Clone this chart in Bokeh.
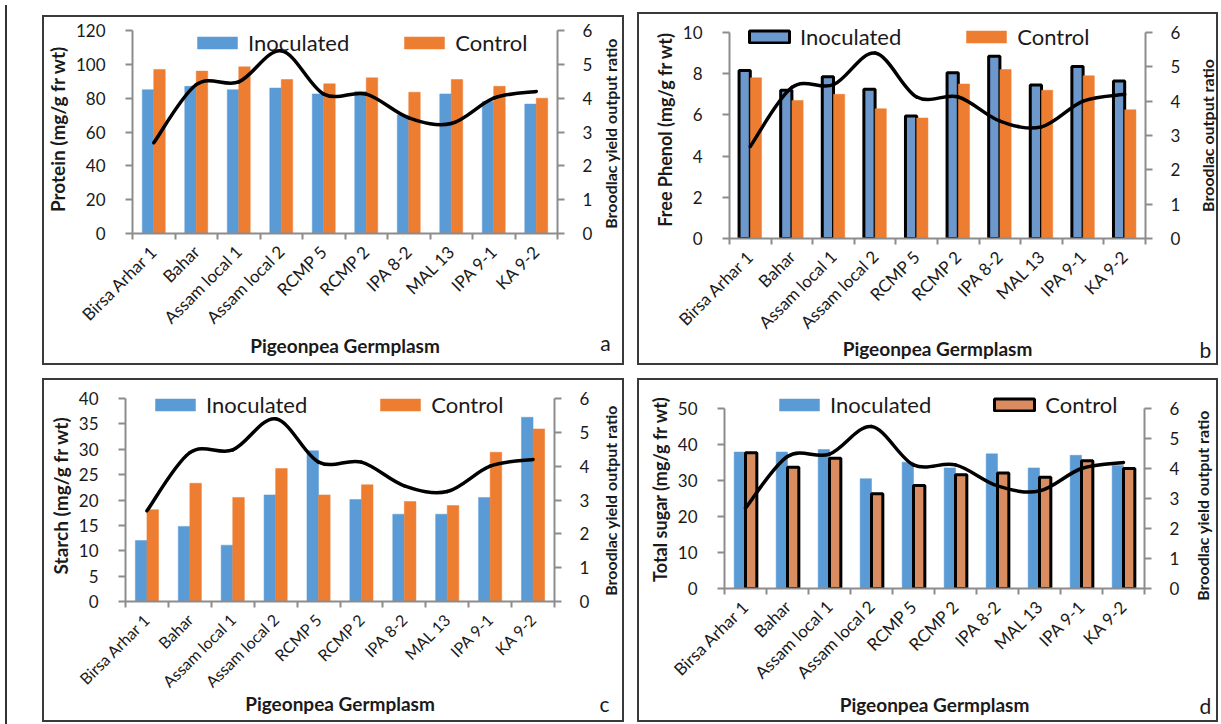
import numpy as np
from bokeh.plotting import figure
from bokeh.models import (Range1d, LinearAxis, FixedTicker, Legend, Label, Div,
                          ColumnDataSource)
from bokeh.layouts import row, column
from bokeh.embed import file_html
from bokeh.resources import INLINE

# ---------------- data ----------------
germplasm = ["Birsa Arhar 1", "Bahar", "Assam local 1", "Assam local 2", "RCMP 5",
             "RCMP 2", "IPA 8-2", "MAL 13", "IPA 9-1", "KA 9-2"]
broodlac_ratio = [2.68, 4.40, 4.48, 5.40, 4.12, 4.12, 3.42, 3.25, 4.00, 4.20]
ratio_ticks = [0, 1, 2, 3, 4, 5, 6]

protein_inoculated = [85.0, 87.0, 85.0, 86.0, 82.5, 84.0, 70.0, 82.5, 78.0, 76.5]
protein_control = [97.0, 96.0, 98.5, 91.0, 88.5, 92.0, 83.5, 91.0, 87.0, 80.0]
protein_ticks = [0, 20, 40, 60, 80, 100, 120]

phenol_inoculated = [8.15, 7.2, 7.85, 7.25, 5.95, 8.05, 8.85, 7.45, 8.35, 7.65]
phenol_control = [7.8, 6.7, 7.0, 6.3, 5.85, 7.5, 8.2, 7.2, 7.9, 6.25]
phenol_ticks = [0, 2, 4, 6, 8, 10]

starch_inoculated = [12.0, 14.8, 11.1, 21.0, 29.7, 20.1, 17.2, 17.2, 20.5, 36.3]
starch_control = [18.1, 23.3, 20.5, 26.2, 21.0, 23.0, 19.7, 18.9, 29.4, 34.0]
starch_ticks = [0, 5, 10, 15, 20, 25, 30, 35, 40]

sugar_inoculated = [37.9, 37.9, 38.6, 30.5, 35.1, 33.5, 37.4, 33.5, 37.0, 34.2]
sugar_control = [37.7, 33.7, 36.2, 26.3, 28.6, 31.6, 32.1, 30.9, 35.5, 33.3]
sugar_ticks = [0, 10, 20, 30, 40, 50]

# ---------------- style ----------------
FONT = "Lato"
BLUE = "#5B9BD5"
ORANGE = "#ED7D31"
AXIS_GRAY = "#8C8C8C"
TEXT = "#1a1a1a"
BOX = "#3a3a3a"
SIDE_W = 26


def style_axis(ax, label_standoff):
    ax.axis_line_color = AXIS_GRAY
    ax.axis_line_width = 2
    ax.major_tick_line_color = AXIS_GRAY
    ax.major_tick_line_width = 2
    ax.major_tick_out = 7
    ax.major_tick_in = 0
    ax.minor_tick_line_color = None
    ax.major_label_text_font = FONT
    ax.major_label_text_font_size = "17px"
    ax.major_label_text_color = TEXT
    ax.major_label_standoff = label_standoff
    ax.axis_label_text_font = FONT
    ax.axis_label_text_font_style = "bold"
    ax.axis_label_text_color = TEXT


def panel(cfg):
    n = len(germplasm)
    centers = np.arange(n) + 0.5
    bw = 0.27
    bl, br, bt, bb = cfg["borders"]
    axis_px = cfg["axis_px"]          # pixel height of the 0..top tick span
    extra = cfg["extra_px"]           # room above the top tick for the legend
    yticks = cfg["yticks"]
    grow = (axis_px + extra) / axis_px
    w_main = cfg["w"] - SIDE_W
    top, left = cfg["offset"]
    p = figure(width=w_main, height=cfg["h"], x_range=Range1d(0, n),
               y_range=Range1d(0, yticks[-1] * grow), output_backend="svg",
               toolbar_location=None, min_border_left=bl, min_border_right=br,
               min_border_top=bt, min_border_bottom=bb, outline_line_color=None,
               border_fill_alpha=0, margin=(top, 0, 0, left), frame_align=False)
    p.styles = {"box-shadow": f"inset 2px 0 0 0 {BOX}, inset 0 2px 0 0 {BOX}, "
                              f"inset 0 -2px 0 0 {BOX}"}
    p.grid.visible = False
    p.extra_y_ranges = {"ratio": Range1d(0, ratio_ticks[-1] * grow)}

    src = ColumnDataSource(dict(xi=centers - bw / 2, xc=centers + bw / 2,
                                inoc=cfg["inoc"], ctrl=cfg["ctrl"]))
    inoc_fill, ctrl_fill = cfg["fills"]
    inoc_line, ctrl_line = cfg["outlined"]
    r1 = p.vbar(x="xi", top="inoc", width=bw, source=src, fill_color=inoc_fill,
                line_color="black" if inoc_line else inoc_fill,
                line_width=3 if inoc_line else 0.5)
    r2 = p.vbar(x="xc", top="ctrl", width=bw, source=src, fill_color=ctrl_fill,
                line_color="black" if ctrl_line else ctrl_fill,
                line_width=3 if ctrl_line else 0.5)

    # smoothed broodlac ratio line (Bezier segments through the data points)
    ys = np.array(broodlac_ratio, dtype=float)
    xs = centers
    x0, y0, x1, y1, cx0, cy0, cx1, cy1 = ([] for _ in range(8))
    for i in range(n - 1):
        pv = max(i - 1, 0)
        nx = min(i + 2, n - 1)
        x0.append(xs[i]); y0.append(ys[i])
        x1.append(xs[i + 1]); y1.append(ys[i + 1])
        cx0.append(xs[i] + (xs[i + 1] - xs[pv]) / 6)
        cy0.append(ys[i] + (ys[i + 1] - ys[pv]) / 6)
        cx1.append(xs[i + 1] - (xs[nx] - xs[i]) / 6)
        cy1.append(ys[i + 1] - (ys[nx] - ys[i]) / 6)
    p.bezier(x0=x0, y0=y0, x1=x1, y1=y1, cx0=cx0, cy0=cy0, cx1=cx1, cy1=cy1,
             y_range_name="ratio", line_color="black", line_width=3.5,
             line_cap="round")

    # x axis
    xa = p.xaxis[0]
    style_axis(xa, 8)
    xa.ticker = FixedTicker(ticks=[float(c) for c in centers],
                            minor_ticks=list(range(n + 1)))
    xa.major_label_overrides = {float(c): g for c, g in zip(centers, germplasm)}
    xa.major_label_text_font_size = cfg["xlabel_size"]
    xa.major_tick_line_color = None
    xa.minor_tick_line_color = AXIS_GRAY
    xa.minor_tick_line_width = 2
    xa.minor_tick_out = 6
    xa.minor_tick_in = 0
    xa.major_label_orientation = np.pi / 4
    xa.axis_label = "Pigeonpea Germplasm"
    xa.axis_label_text_font_size = "19px"
    xa.axis_label_standoff = cfg["xtitle_standoff"]

    # left axis
    ya = p.yaxis[0]
    style_axis(ya, 20)
    ya.ticker = FixedTicker(ticks=yticks)
    ya.bounds = (0, yticks[-1])
    ya.axis_label = cfg["ytitle"]
    ya.axis_label_text_font_size = cfg["ytitle_size"]
    ya.axis_label_standoff = 4

    # right axis (ratio ticks)
    ra = LinearAxis(y_range_name="ratio", ticker=FixedTicker(ticks=ratio_ticks),
                    bounds=(0, ratio_ticks[-1]))
    style_axis(ra, 18)
    p.add_layout(ra, "right")

    legend = Legend(items=[("Inoculated", [r1]), ("Control", [r2])],
                    location=cfg["legend_xy"], orientation="horizontal",
                    background_fill_alpha=0, border_line_color=None,
                    label_text_font=FONT, label_text_font_size="22px",
                    label_text_color=TEXT, glyph_width=50, glyph_height=15,
                    spacing=cfg["spacing"], label_standoff=6, padding=0, margin=0)
    p.add_layout(legend)

    # narrow strip at the right of the box: right-axis title and panel letter
    s = figure(width=SIDE_W, height=cfg["h"], x_range=Range1d(0, SIDE_W),
               y_range=Range1d(0, cfg["h"]), output_backend="svg",
               toolbar_location=None, min_border=0, x_axis_location=None,
               y_axis_location=None, outline_line_color=None,
               background_fill_alpha=0, border_fill_alpha=0,
               margin=(top, 0, 0, 0), frame_align=False)
    s.styles = {"box-shadow": f"inset -2px 0 0 0 {BOX}, inset 0 2px 0 0 {BOX}, "
                              f"inset 0 -2px 0 0 {BOX}"}
    s.grid.visible = False
    tx, ty = cfg["rtitle_xy"]
    s.add_layout(Label(x=tx, y=ty, text=cfg["rtitle"], angle=np.pi / 2,
                       text_font=FONT, text_font_size="16px",
                       text_font_style="bold", text_color=TEXT,
                       text_align="center", text_baseline="middle"))
    lx, ly = cfg["letter_xy"]
    s.add_layout(Label(x=lx, y=ly, text=cfg["letter"], text_font=FONT,
                       text_font_size="21px", text_color=TEXT,
                       text_align="center", text_baseline="middle"))
    return row(p, s)


pa = panel(dict(ytitle="Protein (mg/g fr wt)", ytitle_size="19px",
                rtitle="Broodlac yield output ratio", rtitle_xy=(12, 232),
                inoc=protein_inoculated, ctrl=protein_control, yticks=protein_ticks,
                w=582, h=350, borders=(90, 41, 9, 132), axis_px=203, extra_px=6,
                offset=(15, 30), fills=(BLUE, ORANGE), outlined=(False, False),
                legend_xy=(60, 177), spacing=50, letter="a", letter_xy=(7, 23),
                xlabel_size="17px", xtitle_standoff=-4))
pb = panel(dict(ytitle="Free Phenol (mg/g fr wt)", ytitle_size="18px",
                rtitle="Broodlac output ratio", rtitle_xy=(15, 230),
                inoc=phenol_inoculated, ctrl=phenol_control, yticks=phenol_ticks,
                w=581, h=353, borders=(92, 47, 8, 127), axis_px=206, extra_px=12,
                offset=(12, 13), fills=("#6C98CC", ORANGE), outlined=(True, False),
                legend_xy=(15, 188), spacing=60, letter="b", letter_xy=(13, 16),
                xlabel_size="17px", xtitle_standoff=-6))
pc = panel(dict(ytitle="Starch (mg/g fr wt)", ytitle_size="19px",
                rtitle="Broodlac yield output ratio", rtitle_xy=(12, 222),
                inoc=starch_inoculated, ctrl=starch_control, yticks=starch_ticks,
                w=582, h=344, borders=(83, 44, 11, 121), axis_px=203, extra_px=9,
                offset=(13, 30), fills=(BLUE, ORANGE), outlined=(False, False),
                legend_xy=(25, 183), spacing=68, letter="c", letter_xy=(6, 19),
                xlabel_size="16px", xtitle_standoff=-8))
pd_ = panel(dict(ytitle="Total sugar (mg/g fr wt)", ytitle_size="18px",
                 rtitle="Broodlac yield output ratio", rtitle_xy=(10, 217),
                 inoc=sugar_inoculated, ctrl=sugar_control, yticks=sugar_ticks,
                 w=581, h=344, borders=(87, 48, 11, 134), axis_px=180, extra_px=19,
                 offset=(13, 13), fills=(BLUE, "#D98C5F"), outlined=(False, True),
                 legend_xy=(50, 170), spacing=58, letter="d", letter_xy=(13, 17),
                 xlabel_size="17px", xtitle_standoff=0))

left_bar = Div(width=2, height=722, styles={"background-color": "#333333"})
grid = column(row(pa, pb), row(pc, pd_))
layout = row(left_bar, grid)

open("out.html", "w").write(file_html(layout, INLINE))
